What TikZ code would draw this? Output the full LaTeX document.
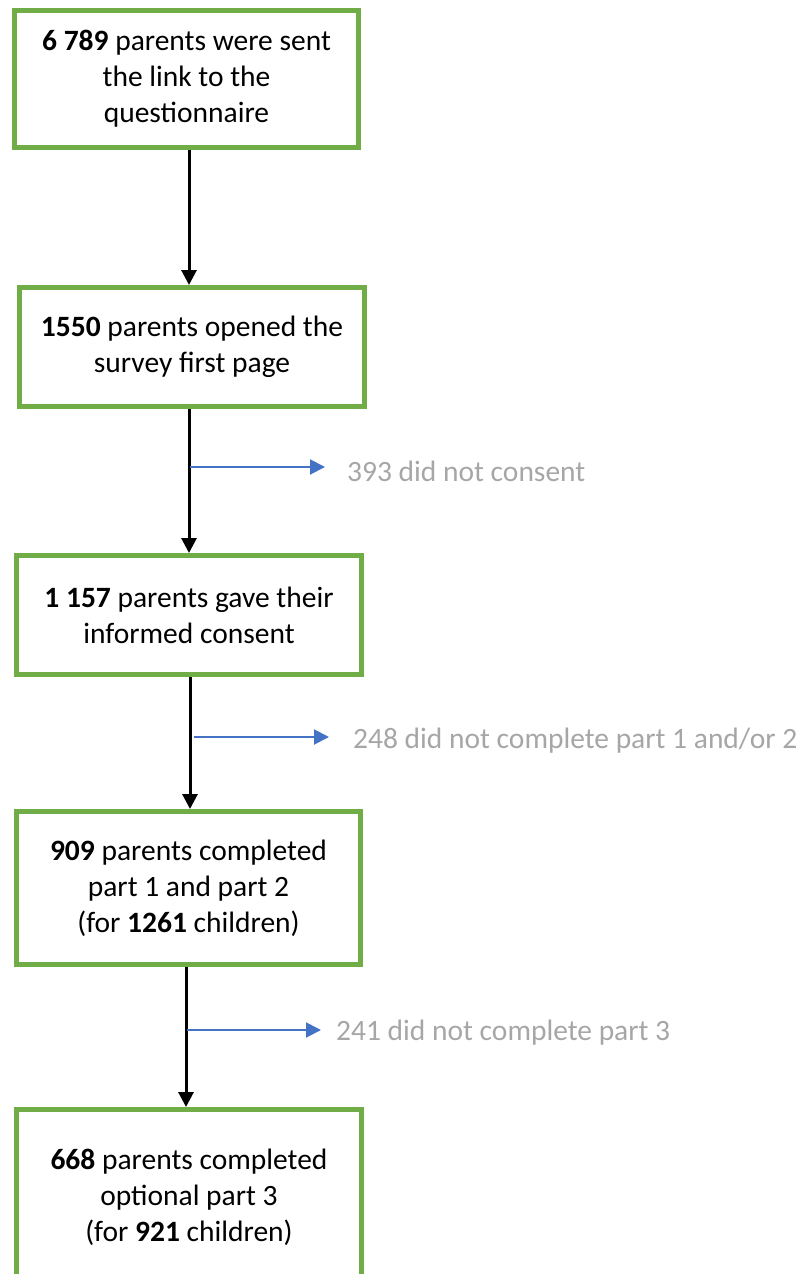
\documentclass[tikz,border=0pt]{standalone}
\usepackage{fontspec}
\setmainfont{Carlito}
\usetikzlibrary{arrows.meta}

\definecolor{boxgreen}{RGB}{112,173,71}
\definecolor{sideblue}{RGB}{68,114,196}
\definecolor{dropgray}{RGB}{166,166,166}

\tikzset{
  box/.style={draw=boxgreen, line width=5pt, fill=white, align=center,
    inner sep=0pt, font=\fontsize{29.5}{36}\selectfont},
  flow/.style={-{Triangle[length=15pt,width=15pt]}, line width=3pt, black},
  side/.style={-{Triangle[length=15pt,width=15pt]}, line width=2pt, sideblue},
  drop/.style={anchor=west, inner sep=0pt, text=dropgray,
    font=\fontsize{29.5}{36}\selectfont}
}

\begin{document}
\begin{tikzpicture}[x=1pt, y=-1pt]
  \useasboundingbox (0,0) rectangle (802,1274);

  % boxes
  \node[box, minimum width=344pt, minimum height=137pt] (b1) at (186.5,79)
    {\textbf{6 789} parents were sent\\the link to the\\questionnaire};
  \node[box, minimum width=345pt, minimum height=119pt] (b2) at (192,347)
    {\textbf{1550} parents opened the\\survey first page};
  \node[box, minimum width=345pt, minimum height=119pt] (b3) at (189,615)
    {\textbf{1 157} parents gave their\\informed consent};
  \node[box, minimum width=344pt, minimum height=153pt] (b4) at (188.5,888)
    {\textbf{909} parents completed\\part 1 and part 2\\(for \textbf{1261} children)};
  \node[box, minimum width=345pt, minimum height=176pt] (b5) at (189,1197.5)
    {\textbf{668} parents completed\\optional part 3\\(for \textbf{921} children)};

  % drop-outs
  \node[drop] (d1) at (347,471) {393 did not consent};
  \node[drop] (d2) at (353,741) {248 did not complete part 1 and/or 2};
  \node[drop] (d3) at (336,1033) {241 did not complete part 3};

  % arrow lines
  \coordinate (a1) at (189,0);
  \coordinate (a2) at (189,0);
  \coordinate (a3) at (190,0);
  \coordinate (a4) at (186,0);
  \draw[flow] (b1.south -| a1) -- (b2.north -| a1);
  \draw[flow] (b2.south -| a2) -- (b3.north -| a2);
  \draw[flow] (b3.south -| a3) -- (b4.north -| a3);
  \draw[flow] (b4.south -| a4) -- (b5.north -| a4);

  % side arrows
  \coordinate (s1) at (190,467);
  \coordinate (s2) at (194,737);
  \coordinate (s3) at (187,1030);
  \draw[side] (s1) -- (s1 -| d1.west) [shorten >=22pt];
  \draw[side] (s2) -- (s2 -| d2.west) [shorten >=24pt];
  \draw[side] (s3) -- (s3 -| d3.west) [shorten >=15pt];
\end{tikzpicture}
\end{document}
